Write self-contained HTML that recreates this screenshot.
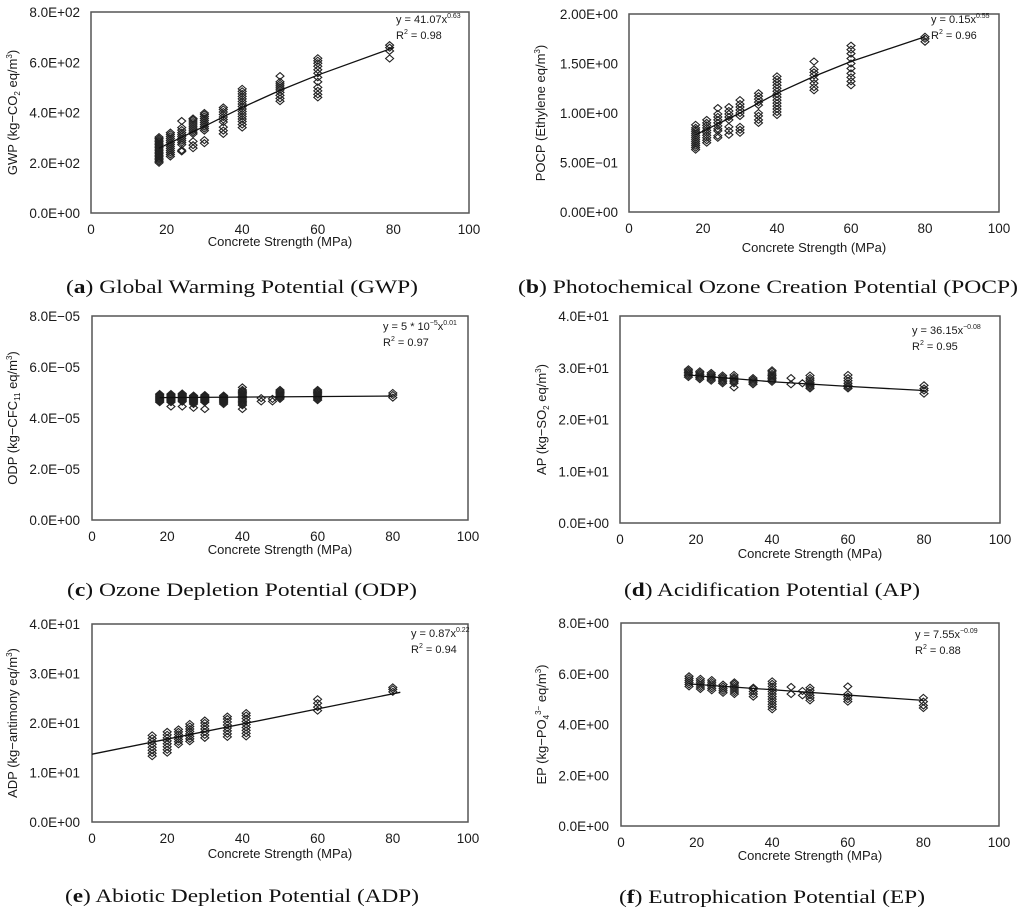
<!DOCTYPE html>
<html><head><meta charset="utf-8">
<style>
html,body{margin:0;padding:0;background:#fff;}
svg{display:block;}
.tk{font-family:"Liberation Sans",sans-serif;font-size:13.5px;fill:#1a1a1a;}
.xl{font-family:"Liberation Sans",sans-serif;font-size:13px;fill:#1a1a1a;}
.eq{font-family:"Liberation Sans",sans-serif;font-size:11px;fill:#1a1a1a;}
.cap{font-family:"Liberation Serif",serif;font-size:19px;fill:#111;}
</style></head>
<body>
<svg id="fig" width="1024" height="914" viewBox="0 0 1024 914" xmlns="http://www.w3.org/2000/svg"></svg>
<script>
// ---------- data ----------
const gwpX=[18,21,24,27,30,35,40,50,60,79];
const gwpY=[[200,206,212,218,224,230,236,242,248,254,260,266,272,278,284,290,296,302],[225,233,241,249,257,265,273,281,289,297,305,313,320],[245,250,272,280,288,296,304,312,320,330,340,366],[258,270,285,315,322,330,338,346,354,362,370,376],[278,290,328,336,344,352,360,368,376,384,392,398],[315,328,342,362,372,382,392,402,412,420],[340,352,364,374,384,394,404,414,424,434,444,454,464,474,484,494],[445,456,468,480,490,498,506,514,522,545],[460,472,486,500,522,540,556,570,584,596,606,616],[615,645,658,668]];
const gwpFitX=[18,30,40,50,60,80];
const gwpFitY=[258,345,420,488,549,658];
const gwpTicks=["0.0E+00","2.0E+02","4.0E+02","6.0E+02","8.0E+02"];

const pocpX=[18,21,24,27,30,35,40,50,60,80];
const pocpY=[[0.63,0.65,0.67,0.69,0.71,0.73,0.75,0.77,0.79,0.81,0.83,0.85,0.88],[0.70,0.725,0.75,0.775,0.8,0.825,0.85,0.875,0.9,0.93],[0.75,0.77,0.82,0.84,0.87,0.9,0.93,0.96,0.99,1.05],[0.78,0.82,0.86,0.93,0.96,0.99,1.02,1.06],[0.8,0.83,0.86,0.97,1.0,1.03,1.06,1.09,1.13],[0.9,0.93,0.97,1.0,1.08,1.11,1.14,1.17,1.2],[0.98,1.01,1.04,1.07,1.1,1.13,1.16,1.19,1.22,1.25,1.28,1.31,1.34,1.37],[1.23,1.26,1.3,1.34,1.38,1.41,1.44,1.52],[1.28,1.32,1.36,1.4,1.45,1.5,1.55,1.6,1.64,1.68],[1.72,1.75,1.77]];
const pocpFitX=[18,30,40,50,60,80];
const pocpFitY=[0.78,1.0,1.2,1.37,1.52,1.77];
const pocpTicks=["0.00E+00","5.00E\u221201","1.00E+00","1.50E+00","2.00E+00"];

const odpX=[18,21,24,27,30,35,40,45,48,50,60,80];
const odpY=[[4.62,4.66,4.7,4.74,4.78,4.82,4.86,4.9,4.94],[4.45,4.62,4.66,4.7,4.74,4.78,4.82,4.86,4.9,4.94],[4.45,4.64,4.68,4.72,4.76,4.8,4.84,4.88,4.92,4.96],[4.4,4.55,4.6,4.64,4.68,4.72,4.76,4.8,4.84,4.88],[4.35,4.62,4.66,4.7,4.74,4.78,4.82,4.86,4.9],[4.55,4.6,4.64,4.68,4.72,4.76,4.8,4.84,4.88],[4.35,4.5,4.55,4.6,4.65,4.7,4.75,4.8,4.85,4.9,4.95,5.0,5.05,5.1,5.2],[4.65,4.78],[4.65,4.75],[4.75,4.8,4.85,4.9,4.95,5.0,5.05,5.1],[4.7,4.75,4.8,4.85,4.9,4.95,5.0,5.05,5.1],[4.8,4.9,4.98]];
const odpFitX=[18,80];
const odpFitY=[4.8,4.86];
const odpTicks=["0.0E+00","2.0E\u221205","4.0E\u221205","6.0E\u221205","8.0E\u221205"];

const apX=[18,21,24,27,30,35,40,45,48,50,60,80];
const apY=[[28.2,28.5,28.8,29.1,29.4,29.7],[27.8,28.1,28.4,28.7,29.0,29.3],[27.5,27.8,28.1,28.4,28.7,29.0],[27.0,27.3,27.6,27.9,28.2,28.5],[26.2,27.0,27.3,27.6,27.9,28.2,28.6],[26.8,27.1,27.4,27.7,28.0],[27.3,27.6,27.9,28.2,28.5,28.8,29.2,29.5],[26.8,28.0],[27.0],[26.0,26.3,26.6,26.9,27.2,27.6,28.0,28.5],[26.0,26.3,26.6,27.0,27.5,28.0,28.6],[25.0,25.6,26.0,26.6]];
const apFitX=[18,40,60,80];
const apFitY=[28.6,27.3,26.4,25.6];
const apTicks=["0.0E+00","1.0E+01","2.0E+01","3.0E+01","4.0E+01"];

const adpX=[16,20,23,26,30,36,41,60,80];
const adpY=[[13.3,13.9,14.5,15.1,15.7,16.3,16.9,17.5],[14.0,14.6,15.2,15.8,16.4,17.0,17.6,18.2],[15.7,16.2,16.7,17.2,17.7,18.2,18.7],[16.3,16.8,17.3,17.8,18.3,18.8,19.3,19.8],[17.0,17.6,18.2,18.8,19.4,20.0,20.5],[17.2,17.8,18.4,19.0,19.6,20.2,20.8,21.3],[17.3,17.9,18.5,19.1,19.7,20.3,20.9,21.5,22.0],[22.5,23.2,24.0,24.8],[26.3,26.8,27.2]];
const adpFitX=[0,82];
const adpFitY=[13.7,26.2];
const adpTicks=["0.0E+00","1.0E+01","2.0E+01","3.0E+01","4.0E+01"];

const epX=[18,21,24,27,30,35,40,45,48,50,60,80];
const epY=[[5.5,5.58,5.66,5.74,5.82,5.9],[5.4,5.48,5.56,5.64,5.72,5.8],[5.35,5.43,5.51,5.59,5.67,5.75],[5.25,5.33,5.41,5.49,5.57],[5.2,5.28,5.36,5.44,5.52,5.6,5.66],[5.1,5.2,5.3,5.4,5.45],[4.6,4.7,4.8,4.9,5.0,5.1,5.2,5.3,5.4,5.5,5.6,5.7],[5.2,5.48],[5.15,5.32],[4.95,5.05,5.15,5.25,5.35,5.45],[4.9,5.0,5.1,5.2,5.5],[4.65,4.75,4.9,5.05]];
const epFitX=[18,80];
const epFitY=[5.6,4.95];
const epTicks=["0.0E+00","2.0E+00","4.0E+00","6.0E+00","8.0E+00"];

const xTicks=["0","20","40","60","80","100"];

// ---------- layout ----------
const NS="http://www.w3.org/2000/svg";
const svg=document.getElementById('fig');
function mk(tag,attrs,parent){const e=document.createElementNS(NS,tag);for(const k in attrs)e.setAttribute(k,attrs[k]);(parent||svg).appendChild(e);return e;}

const panels=[
 {id:'gwp',X:gwpX,Y:gwpY,fx:gwpFitX,fy:gwpFitY,ticks:gwpTicks,ymax:800,L:91,R:469,T:12,B:213,tkx:80,ytx:17,xly:246,capy:293,capx:242,capw:352,
  ytitle:'GWP (kg\u2212CO<tspan baseline-shift="-3" font-size="8">2</tspan> eq/m<tspan baseline-shift="5" font-size="8">3</tspan>)',
  eq:'y = 41.07x<tspan baseline-shift="5" font-size="7">0.63</tspan>',r2:'R<tspan baseline-shift="5" font-size="7">2</tspan> = 0.98',eqx:396,eqy:23,
  cap:'(<tspan font-weight="bold">a</tspan>) Global Warming Potential (GWP)'},
 {id:'pocp',X:pocpX,Y:pocpY,fx:pocpFitX,fy:pocpFitY,ticks:pocpTicks,ymax:2,L:629,R:999,T:14,B:212,tkx:618,ytx:545,xly:252,capy:293,capx:768,capw:500,
  ytitle:'POCP (Ethylene eq/m<tspan baseline-shift="5" font-size="8">3</tspan>)',
  eq:'y = 0.15x<tspan baseline-shift="5" font-size="7">0.55</tspan>',r2:'R<tspan baseline-shift="5" font-size="7">2</tspan> = 0.96',eqx:931,eqy:23,
  cap:'(<tspan font-weight="bold">b</tspan>) Photochemical Ozone Creation Potential (POCP)'},
 {id:'odp',X:odpX,Y:odpY,fx:odpFitX,fy:odpFitY,ticks:odpTicks,ymax:8,L:92,R:468,T:316,B:520,tkx:80,ytx:17,xly:554,capy:596,capx:242,capw:350,
  ytitle:'ODP (kg\u2212CFC<tspan baseline-shift="-3" font-size="8">11</tspan> eq/m<tspan baseline-shift="5" font-size="8">3</tspan>)',
  eq:'y = 5 * 10<tspan baseline-shift="5" font-size="7">\u22125</tspan>x<tspan baseline-shift="5" font-size="7">0.01</tspan>',r2:'R<tspan baseline-shift="5" font-size="7">2</tspan> = 0.97',eqx:383,eqy:330,
  cap:'(<tspan font-weight="bold">c</tspan>) Ozone Depletion Potential (ODP)'},
 {id:'ap',X:apX,Y:apY,fx:apFitX,fy:apFitY,ticks:apTicks,ymax:40,L:620,R:1000,T:316,B:523,tkx:609,ytx:546,xly:558,capy:596,capx:772,capw:296,
  ytitle:'AP (kg\u2212SO<tspan baseline-shift="-3" font-size="8">2</tspan> eq/m<tspan baseline-shift="5" font-size="8">3</tspan>)',
  eq:'y = 36.15x<tspan baseline-shift="5" font-size="7">\u22120.08</tspan>',r2:'R<tspan baseline-shift="5" font-size="7">2</tspan> = 0.95',eqx:912,eqy:334,
  cap:'(<tspan font-weight="bold">d</tspan>) Acidification Potential (AP)'},
 {id:'adp',X:adpX,Y:adpY,fx:adpFitX,fy:adpFitY,ticks:adpTicks,ymax:40,L:92,R:468,T:624,B:822,tkx:80,ytx:17,xly:858,capy:902,capx:242,capw:354,
  ytitle:'ADP (kg\u2212antimony eq/m<tspan baseline-shift="5" font-size="8">3</tspan>)',
  eq:'y = 0.87x<tspan baseline-shift="5" font-size="7">0.22</tspan>',r2:'R<tspan baseline-shift="5" font-size="7">2</tspan> = 0.94',eqx:411,eqy:637,
  cap:'(<tspan font-weight="bold">e</tspan>) Abiotic Depletion Potential (ADP)'},
 {id:'ep',X:epX,Y:epY,fx:epFitX,fy:epFitY,ticks:epTicks,ymax:8,L:621,R:999,T:623,B:826,tkx:609,ytx:546,xly:860,capy:903,capx:772,capw:306,
  ytitle:'EP (kg\u2212PO<tspan baseline-shift="-3" font-size="8">4</tspan><tspan baseline-shift="5" font-size="8">3\u2212</tspan> eq/m<tspan baseline-shift="5" font-size="8">3</tspan>)',
  eq:'y = 7.55x<tspan baseline-shift="5" font-size="7">\u22120.09</tspan>',r2:'R<tspan baseline-shift="5" font-size="7">2</tspan> = 0.88',eqx:915,eqy:638,
  cap:'(<tspan font-weight="bold">f</tspan>) Eutrophication Potential (EP)'}
];

panels.forEach(p=>{
  const g=mk('g',{});
  
  
  const sx=v=>p.L+(p.R-p.L)*v/100;
  const sy=v=>p.B-(p.B-p.T)*v/p.ymax;
  const box=mk('rect',{x:p.L,y:p.T,width:p.R-p.L,height:p.B-p.T,fill:'none',stroke:'#555','stroke-width':1.5},g);
  
  
  p.ticks.forEach((t,i)=>{
    const el=mk('text',{x:p.tkx,y:sy(i*p.ymax/4)+5,'text-anchor':'end',class:'tk'},g);
    el.textContent=t;
    
    
  });
  xTicks.forEach((t,i)=>{
    const el=mk('text',{x:sx(i*20),y:p.B+21,'text-anchor':'middle',class:'tk'},g);
    el.textContent=t;
    
    
  });
  const xl=mk('text',{x:(p.L+p.R)/2,y:p.xly,'text-anchor':'middle',class:'xl'},g);
  xl.textContent='Concrete Strength (MPa)';
  
  
  const cy=(p.T+p.B)/2;
  const yt=mk('text',{x:p.ytx,y:cy,'text-anchor':'middle',class:'xl',transform:'rotate(-90 '+p.ytx+' '+cy+')'},g);
  yt.innerHTML=p.ytitle;
  
  
  p.X.forEach((x,i)=>{
    p.Y[i].forEach(v=>{
      const px=sx(x),py=sy(v);
      const d=mk('path',{d:`M${px},${py-3.5}L${px+4},${py}L${px},${py+3.5}L${px-4},${py}Z`,fill:'none',stroke:'#222','stroke-width':1.1},g);
      
      
    });
  });
  const pts=p.fx.map((x,i)=>sx(x)+','+sy(p.fy[i])).join(' ');
  const ln=mk('polyline',{points:pts,fill:'none',stroke:'#111','stroke-width':1.3},g);
  
  
  const eq=mk('text',{x:p.eqx,y:p.eqy,class:'eq'},g);
  eq.innerHTML=p.eq;
  
  
  const r2=mk('text',{x:p.eqx,y:p.eqy+16,class:'eq'},g);
  r2.innerHTML=p.r2;
  
  
  const cap=mk('text',{x:p.capx,y:p.capy,'text-anchor':'middle',class:'cap',textLength:p.capw,lengthAdjust:'spacingAndGlyphs'},g);
  cap.innerHTML=p.cap;
  
  
});
</script>
</body></html>
